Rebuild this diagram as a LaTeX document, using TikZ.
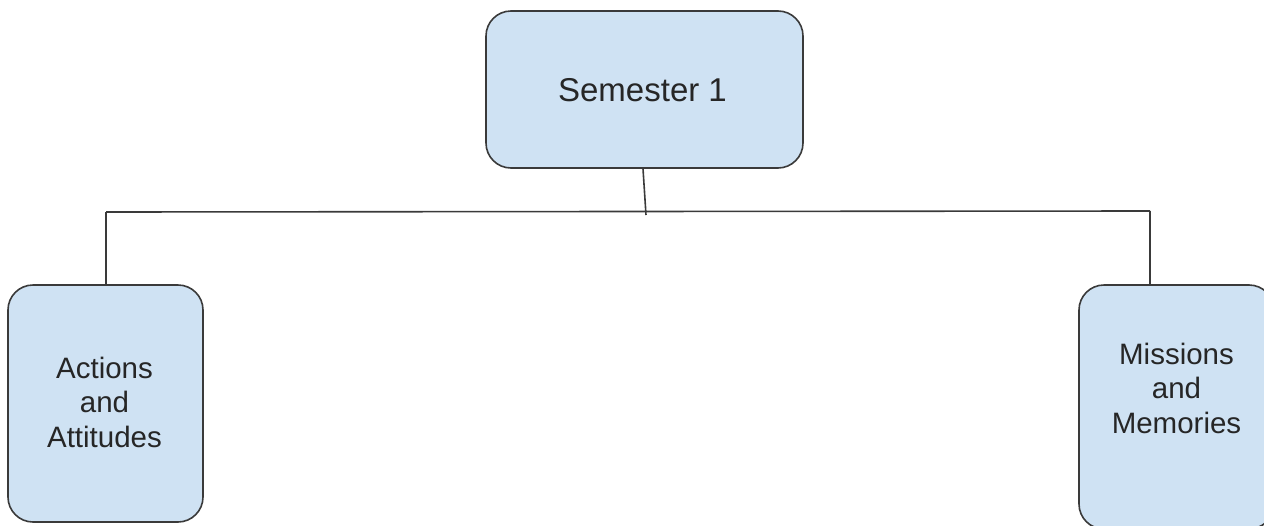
\documentclass[tikz,border=0pt]{standalone}
\usepackage{fontspec}
\setmainfont{Liberation Sans}
\definecolor{boxfill}{HTML}{CFE2F3}
\definecolor{boxline}{HTML}{3A3A3A}
\begin{document}
\begin{tikzpicture}[x=1pt,y=-1pt,
  boxstyle/.style={draw=boxline,fill=boxfill,line width=1.6pt,rounded corners=25pt,inner sep=0pt},
  conn/.style={draw=boxline,line width=1.6pt},
  small/.style={align=center,inner sep=0pt,font=\fontsize{29.5}{34.5}\selectfont,text=black!85}]
\useasboundingbox (0,0) rectangle (1264,525);
\begin{scope}
\clip (0,0) rectangle (1264,525);
\node[boxstyle,minimum width=317pt,minimum height=157pt] (top) at (644.5,89.5) {};
\node[boxstyle,minimum width=195pt,minimum height=237pt] (left) at (105.5,403.5) {};
\node[boxstyle,minimum width=195pt,minimum height=244pt] (right) at (1176.5,407) {};
\end{scope}
\node[inner sep=0pt,font=\fontsize{33}{38}\selectfont,text=black!85] (ttext) at (642.5,90) {Semester 1};
\node[small] (ltext) at (104.5,402) {Actions\\and\\Attitudes};
\node[small] (rtext) at (1176.5,388) {Missions\\and\\Memories};
\coordinate (jt) at (646,215);
\coordinate (jl) at (106,212);
\coordinate (jr) at (1150,211);
\draw[conn] ([xshift=-1.5pt]top.south) -- (jt);
\draw[conn] (jl) -- (jr);
\draw[conn] (jl) -- (jl |- left.north);
\draw[conn] (jr) -- (jr |- right.north);
\end{tikzpicture}
\end{document}
